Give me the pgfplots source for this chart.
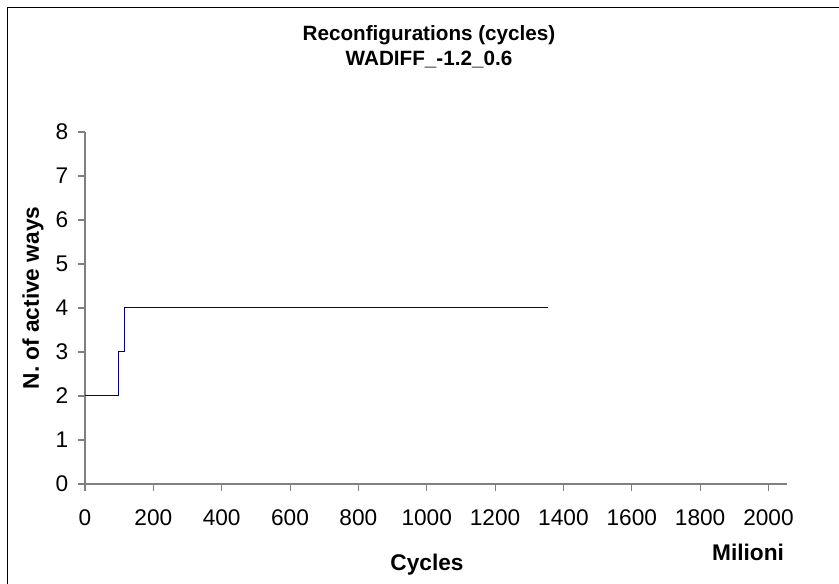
\documentclass[border=0pt]{standalone}
\usepackage{fontspec}
\setmainfont{Liberation Sans}
\usepackage{pgfplots}
\pgfplotsset{compat=1.18}
\definecolor{navy}{RGB}{0,0,128}
\definecolor{axgray}{RGB}{128,128,128}
\begin{document}
\begin{tikzpicture}
\useasboundingbox (0pt,0pt) rectangle (629.25pt,438pt);
\begin{scope}
\clip (0pt,0pt) rectangle (629.25pt,438pt);
\draw[black, line width=0.9pt] (5.6pt,-20pt) -- (5.6pt,432.4pt) -- (650pt,432.4pt);
\end{scope}
\begin{axis}[
  at={(63.75pt,75pt)}, anchor=south west,
  scale only axis,
  width=526.7pt, height=264pt,
  xmin=0, xmax=2055, ymin=0, ymax=8,
  axis x line=bottom, axis y line=left,
  axis line style={axgray, line width=0.8pt, -},
  xtick={0,200,...,2000}, ytick={0,1,...,8},
  tick align=outside, major tick length=5pt,
  tick style={axgray, line width=0.8pt},
  /pgf/number format/assume math mode=true,
  /pgf/number format/1000 sep={},
  ticklabel style={font=\fontsize{17}{20}\selectfont, black},
  xticklabel style={yshift=-11pt},
  yticklabel style={xshift=-4pt},
  clip=false,
]
\addplot[navy, line width=0.75pt, const plot] coordinates {(0,2) (99,3) (115,4) (1355,4)};
\end{axis}
\node[align=center, font=\bfseries\fontsize{15.5}{18.75}\selectfont] at (321.75pt,403pt) {Reconfigurations (cycles)\\WADIFF\_-1.2\_0.6};
\node[font=\bfseries\fontsize{17}{20}\selectfont] at (320.25pt,14.25pt) {Cycles};
\node[font=\bfseries\fontsize{17}{20}\selectfont] at (561pt,24pt) {Milioni};
\node[font=\bfseries\fontsize{17}{20}\selectfont, rotate=90] at (24.75pt,214.5pt) {N. of active ways};
\end{tikzpicture}
\end{document}
